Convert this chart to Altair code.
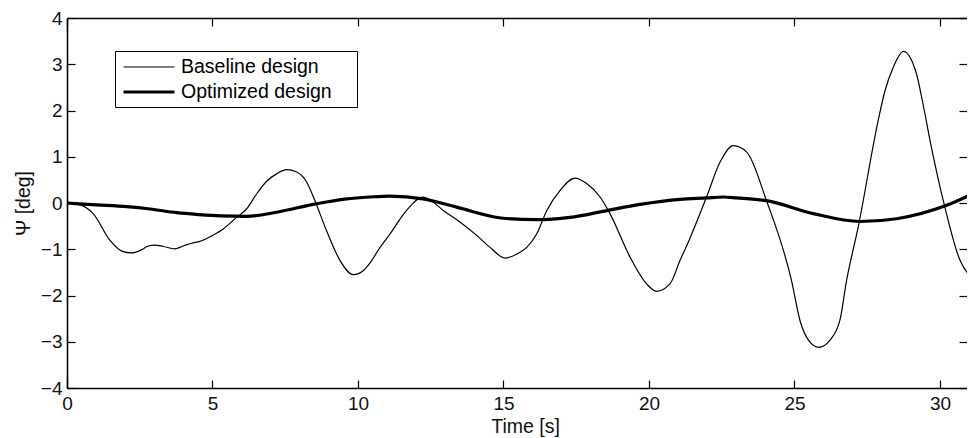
import altair as alt
import pandas as pd

# ---------------- data ----------------
series_names = ["Baseline design", "Optimized design"]

t_baseline = [0.0, 0.4, 0.9, 1.48, 1.88, 2.22, 2.51, 2.8, 3.02, 3.31, 3.71, 3.99, 4.28, 4.57,
              5.03, 5.37, 5.83, 6.17, 6.52, 6.86, 7.2, 7.55, 7.89, 8.24, 8.52, 8.92, 9.38,
              9.84, 10.19, 10.41, 10.76, 11.1, 11.67, 12.24, 12.47, 12.93, 13.5, 14.08,
              14.54, 15.05, 15.45, 15.8, 16.14, 16.49, 16.94, 17.46, 17.86, 18.32, 18.66,
              19.35, 19.92, 20.26, 20.72, 21.07, 21.41, 21.98, 22.44, 22.9, 23.36, 24.04,
              24.9, 25.19, 25.5, 25.84, 26.2, 26.56, 26.79, 27.19, 27.88, 28.1, 28.4, 28.74,
              29.19, 29.4, 29.66, 30.17, 30.69, 31.14, 31.3]
psi_baseline = [0.0, -0.03, -0.23, -0.81, -1.04, -1.08, -1.03, -0.93, -0.91, -0.94, -0.99,
                -0.93, -0.87, -0.83, -0.69, -0.56, -0.31, -0.13, 0.2, 0.47, 0.63, 0.72, 0.67,
                0.45, 0.05, -0.6, -1.24, -1.55, -1.46, -1.3, -0.96, -0.67, -0.16, 0.13, 0.07,
                -0.16, -0.41, -0.7, -0.96, -1.19, -1.11, -0.96, -0.67, -0.16, 0.27, 0.54,
                0.42, 0.13, -0.23, -1.17, -1.75, -1.91, -1.75, -1.24, -0.76, 0.13, 0.88,
                1.24, 1.1, 0.05, -1.68, -2.54, -2.98, -3.12, -2.98, -2.54, -1.68, -0.52,
                1.79, 2.4, 2.94, 3.28, 2.8, 2.2, 1.35, -0.09, -1.24, -1.61, -1.64]

t_optimized = [0.0, 1.0, 2.05, 2.85, 3.77, 4.5, 5.26, 6.17, 7.2, 8.46, 9.61, 10.41, 11.1,
               12.24, 13.39, 14.99, 16.14, 17.29, 18.43, 19.69, 21.07, 21.98, 22.55, 23.01,
               24.04, 25.65, 27.25, 28.51, 30.23, 31.3]
psi_optimized = [0.0, -0.04, -0.08, -0.13, -0.21, -0.25, -0.28, -0.29, -0.2, -0.03, 0.09,
                 0.13, 0.15, 0.09, -0.09, -0.33, -0.36, -0.31, -0.18, -0.03, 0.08, 0.11,
                 0.13, 0.11, 0.05, -0.23, -0.4, -0.34, -0.05, 0.25]

x_ticks = [0, 5, 10, 15, 20, 25, 30]
y_ticks = [-4, -3, -2, -1, 0, 1, 2, 3, 4]
x_domain = [0, 30.93]
y_domain = [-4, 4]

df = pd.DataFrame({
    "t": t_baseline + t_optimized,
    "psi": psi_baseline + psi_optimized,
    "series": [series_names[0]] * len(t_baseline) + [series_names[1]] * len(t_optimized),
})

# ---------------- styling ----------------
FONT = "Liberation Sans"
W, H = 900, 370
inward = alt.ExprRef(expr="-8")

x_scale = alt.Scale(domain=x_domain, nice=False, zero=False)
y_scale = alt.Scale(domain=y_domain, nice=False, zero=False)

main = alt.Chart(df).mark_line(color="black", clip=True, interpolate="monotone").encode(
    x=alt.X("t:Q", scale=x_scale,
            axis=alt.Axis(orient="bottom", values=x_ticks, title="Time [s]",
                          tickSize=inward, labelPadding=14, format="d", labelFlush=False,
                          titleY=44.5, titleX=458, titleBaseline="alphabetic")),
    y=alt.Y("psi:Q", scale=y_scale,
            axis=alt.Axis(orient="left", values=y_ticks, title="Ψ [deg]",
                          tickSize=inward, labelPadding=13, format="d", labelFlush=False,
                          titleX=-44, titleY=H / 2, titleBaseline="middle")),
    strokeWidth=alt.StrokeWidth(
        "series:N",
        scale=alt.Scale(domain=series_names, range=[1.2, 3.2]),
        legend=alt.Legend(
            title=None, orient="none", legendX=48, legendY=33,
            strokeColor="black", fillColor="white", padding=5,
            symbolType="M-2.55,0H2.55M19.6,0", symbolSize=400, symbolStrokeColor="black",
            symbolOffset=17, labelOffset=20, rowPadding=3, labelLimit=400,
            labelFont=FONT, labelFontSize=19.5, labelColor="black",
        ),
    ),
    detail="series:N",
)

frame = alt.Chart(df).mark_line(opacity=0, clip=True).encode(
    x=alt.X("t:Q", scale=x_scale,
            axis=alt.Axis(orient="top", values=x_ticks, labels=False, title=None,
                          tickSize=inward, domain=True)),
    y=alt.Y("psi:Q", scale=y_scale,
            axis=alt.Axis(orient="right", values=y_ticks, labels=False, title=None,
                          tickSize=inward, domain=False)),
    detail="series:N",
)

chart = (
    alt.layer(main, frame)
    .resolve_axis(x="independent", y="independent")
    .properties(
        width=W, height=H,
        autosize=alt.AutoSizeParams(type="none"),
        padding={"left": 59, "top": 10, "right": 0, "bottom": 50},
        background="white",
    )
    .configure_view(stroke=None)
    .configure_axis(
        grid=False,
        domainColor="black", domainWidth=1.6,
        tickColor="black", tickWidth=1.2,
        labelFont=FONT, labelFontSize=19, labelColor="#111111",
        titleFont=FONT, titleFontSize=19.5, titleColor="#111111", titleFontWeight="normal",
    )
)

chart.save("out.html", embed_options={"renderer": "svg", "actions": False})
